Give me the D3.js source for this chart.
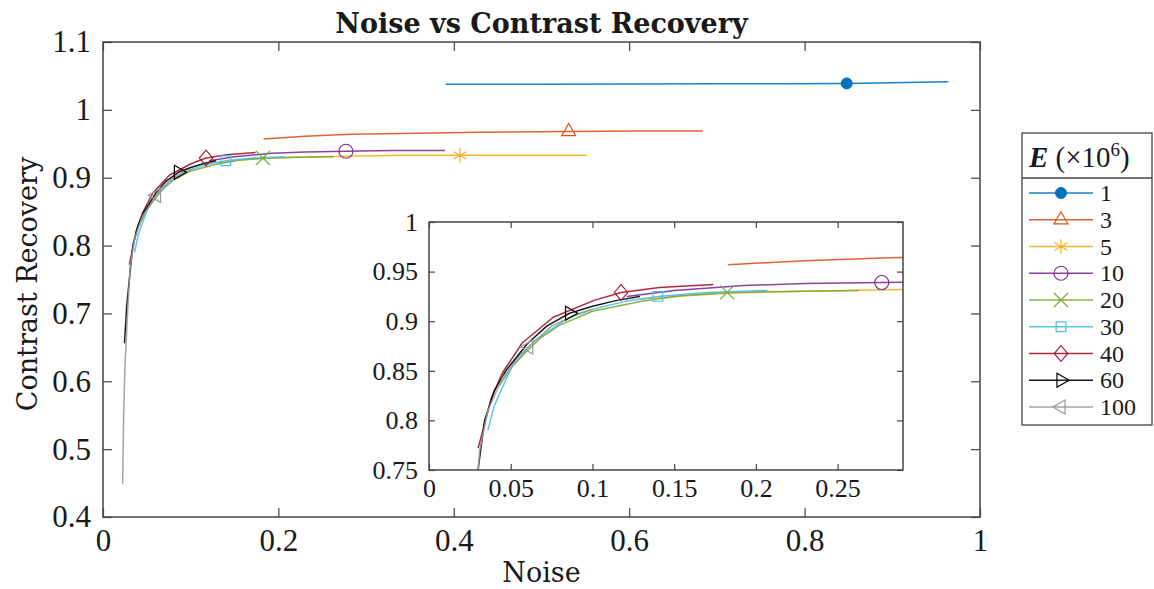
<!DOCTYPE html>
<html>
<head>
<meta charset="utf-8">
<script src="https://cdn.jsdelivr.net/npm/d3@7"></script>
<style>
  html, body { margin: 0; padding: 0; background: #fff; }
</style>
</head>
<body>
<svg id="chart" width="1154" height="589"></svg>
<script>
// ---- data ----
const series = ['1', '3', '5', '10', '20', '30', '40', '60', '100'];
const colors = ['#0072BD', '#D95319', '#EDB120', '#7E2F8E', '#77AC30', '#4DBEEE', '#A2142F', '#000000', '#9a9a9a'];
const markerTypes = ['dot', 'triUp', 'star', 'circle', 'times', 'square', 'diamond', 'triRight', 'triLeft'];

const noise1 = [0.391, 0.50, 0.60, 0.70, 0.775, 0.848, 0.90, 0.964];
const cr1 = [1.0376, 1.0378, 1.0380, 1.0383, 1.0386, 1.0390, 1.0400, 1.0415];
const noise3 = [0.183, 0.23, 0.282, 0.34, 0.43, 0.531, 0.61, 0.684];
const cr3 = [0.957, 0.961, 0.964, 0.965, 0.967, 0.968, 0.969, 0.969];
const noise5 = [0.129, 0.15, 0.18, 0.22, 0.29, 0.35, 0.407, 0.48, 0.552];
const cr5 = [0.922, 0.925, 0.928, 0.930, 0.932, 0.933, 0.933, 0.933, 0.933];
const noise10 = [0.121, 0.15, 0.1926, 0.23, 0.277, 0.33, 0.39];
const cr10 = [0.925, 0.931, 0.936, 0.938, 0.939, 0.940, 0.940];
const noise20 = [0.043, 0.0507, 0.06, 0.069, 0.08, 0.10, 0.13, 0.155, 0.1824, 0.22, 0.263];
const cr20 = [0.835, 0.854, 0.870, 0.884, 0.896, 0.910, 0.920, 0.926, 0.929, 0.930, 0.931];
const noise30 = [0.036, 0.040, 0.0446, 0.0527, 0.065, 0.085, 0.10, 0.12, 0.14, 0.17, 0.207];
const cr30 = [0.790, 0.815, 0.832, 0.861, 0.881, 0.903, 0.912, 0.920, 0.925, 0.929, 0.931];
const noise40 = [0.030, 0.033, 0.038, 0.045, 0.057, 0.076, 0.101, 0.1175, 0.141, 0.174];
const cr40 = [0.772, 0.790, 0.822, 0.848, 0.878, 0.904, 0.921, 0.929, 0.934, 0.937];
const noise60 = [0.0245, 0.027, 0.030, 0.034, 0.040, 0.047, 0.06, 0.072, 0.086, 0.10, 0.115, 0.129];
const cr60 = [0.656, 0.71, 0.75, 0.80, 0.83, 0.85, 0.877, 0.895, 0.908, 0.915, 0.921, 0.925];
const noise100 = [0.0224, 0.0235, 0.025, 0.028, 0.031, 0.036, 0.045, 0.061, 0.075, 0.09, 0.10];
const cr100 = [0.449, 0.55, 0.62, 0.70, 0.77, 0.81, 0.843, 0.874, 0.895, 0.907, 0.912];
// which point of each curve carries the marker
const markerIndex = [5, 5, 6, 4, 8, 8, 7, 8, 7];

const noiseAll = [noise1, noise3, noise5, noise10, noise20, noise30, noise40, noise60, noise100];
const crAll = [cr1, cr3, cr5, cr10, cr20, cr30, cr40, cr60, cr100];

const mainXTicks = [0, 0.2, 0.4, 0.6, 0.8, 1];
const mainYTicks = [0.4, 0.5, 0.6, 0.7, 0.8, 0.9, 1, 1.1];
const insetXTicks = [0, 0.05, 0.1, 0.15, 0.2, 0.25];
const insetYTicks = [0.75, 0.8, 0.85, 0.9, 0.95, 1];

const data = series.map((s, i) => ({
  name: s, color: colors[i], marker: markerTypes[i],
  points: noiseAll[i].map((n, j) => ({ x: n, y: crAll[i][j] })),
  mi: markerIndex[i]
}));

const svg = d3.select('#chart');
const AX = '#444';
const INK = '#1a1a1a';
const NUM_FONT = '"Liberation Serif", "Times New Roman", serif';
const LABEL_FONT = '"DejaVu Serif", serif';

// ---- marker drawing ----
function drawMarker(g, type, color, x, y) {
  const m = g.append('g').attr('transform', `translate(${x},${y})`);
  const sym = (t, size) => d3.symbol(t, size)();
  const stroked = p => p.attr('fill', 'none').attr('stroke', color).attr('stroke-width', 1.2);
  if (type === 'dot') {
    m.append('circle').attr('r', 5.5).attr('fill', color).attr('stroke', color);
  } else if (type === 'circle') {
    stroked(m.append('circle').attr('r', 7));
  } else if (type === 'triUp' || type === 'triRight' || type === 'triLeft') {
    const rot = type === 'triUp' ? 0 : (type === 'triRight' ? 90 : -90);
    stroked(m.append('path').attr('d', sym(d3.symbolTriangle2, 140)).attr('transform', `rotate(${rot})`));
  } else if (type === 'star') {
    stroked(m.append('path').attr('d', sym(d3.symbolAsterisk, 150)));
  } else if (type === 'times') {
    stroked(m.append('path').attr('d', sym(d3.symbolTimes, 130)));
  } else if (type === 'square') {
    stroked(m.append('path').attr('d', sym(d3.symbolSquare2, 120)));
  } else if (type === 'diamond') {
    stroked(m.append('path').attr('d', sym(d3.symbolDiamond2, 160)).attr('transform', 'scale(0.85,1)'));
  }
}

// ---- one panel (main or inset) ----
function panel(opts) {
  const { x0, x1, y0, y1, xDom, yDom, xTicks, yTicks, tickLen, fontSize, id } = opts;
  const x = d3.scaleLinear().domain(xDom).range([x0, x1]);
  const y = d3.scaleLinear().domain(yDom).range([y1, y0]);
  const g = svg.append('g');

  g.append('rect').attr('x', x0).attr('y', y0).attr('width', x1 - x0).attr('height', y1 - y0)
    .attr('fill', '#fff');

  g.append('clipPath').attr('id', id).append('rect')
    .attr('x', x0).attr('y', y0).attr('width', x1 - x0).attr('height', y1 - y0);

  const fmt = d => String(+d.toFixed(2));
  const axes = [
    [d3.axisBottom(x).tickValues(xTicks).tickFormat(fmt), `translate(0,${y1})`],
    [d3.axisTop(x).tickValues(xTicks).tickFormat(''), `translate(0,${y0})`],
    [d3.axisLeft(y).tickValues(yTicks).tickFormat(fmt), `translate(${x0},0)`],
    [d3.axisRight(y).tickValues(yTicks).tickFormat(''), `translate(${x1},0)`]
  ];
  axes.forEach(([ax, tr], k) => {
    const a = g.append('g').attr('transform', tr)
      .call(ax.tickSize(-tickLen).tickSizeOuter(0).tickPadding(k === 0 ? opts.padX : opts.padY));
    a.select('.domain').remove();
    a.selectAll('.tick line').attr('stroke', AX).attr('stroke-width', 1.2);
    a.selectAll('.tick text').style('font-size', fontSize + 'px')
      .style('font-family', NUM_FONT).style('fill', INK);
  });

  const line = d3.line().x(d => x(d.x)).y(d => y(d.y));
  const lines = g.append('g').attr('clip-path', `url(#${id})`);
  data.forEach(s => {
    lines.append('path').datum(s.points).attr('d', line)
      .attr('fill', 'none').attr('stroke', s.color).attr('stroke-width', 1.5)
      .attr('stroke-opacity', 0.9).attr('stroke-linejoin', 'round');
  });
  data.forEach(s => {
    const p = s.points[s.mi];
    if (p.x >= xDom[0] && p.x <= xDom[1] && p.y >= yDom[0] && p.y <= yDom[1]) {
      drawMarker(lines, s.marker, s.color, x(p.x), y(p.y));
    }
  });

  g.append('rect').attr('x', x0).attr('y', y0).attr('width', x1 - x0).attr('height', y1 - y0)
    .attr('fill', 'none').attr('stroke', AX).attr('stroke-width', 1.5);
  return g;
}

// main axes
panel({ id: 'clipMain', x0: 103, x1: 980, y0: 42, y1: 517, xDom: [0, 1], yDom: [0.4, 1.1],
  xTicks: mainXTicks, yTicks: mainYTicks, tickLen: 9, fontSize: 31, padX: 12, padY: 12 });

// inset axes
panel({ id: 'clipInset', x0: 429, x1: 903, y0: 222, y1: 470, xDom: [0, 0.29], yDom: [0.75, 1],
  xTicks: insetXTicks, yTicks: insetYTicks, tickLen: 6, fontSize: 26, padX: 9, padY: 11 });

// titles
const label = (sel, size) => sel.style('font-family', LABEL_FONT).style('font-size', size + 'px').style('fill', INK);
label(svg.append('text').attr('x', 541.5).attr('y', 33).attr('text-anchor', 'middle'), 27)
  .style('font-weight', 'bold').text('Noise vs Contrast Recovery');
label(svg.append('text').attr('x', 541.5).attr('y', 582).attr('text-anchor', 'middle'), 27)
  .text('Noise');
label(svg.append('text').attr('transform', 'translate(37,284) rotate(-90)').attr('text-anchor', 'middle'), 27)
  .text('Contrast Recovery');

// ---- legend ----
const lg = svg.append('g');
const LX0 = 1022, LX1 = 1152, LY0 = 133, LY1 = 425, LH = 178;
lg.append('rect').attr('x', LX0).attr('y', LY0).attr('width', LX1 - LX0).attr('height', LY1 - LY0)
  .attr('fill', '#fff').attr('stroke', AX).attr('stroke-width', 1.3);
lg.append('line').attr('x1', LX0).attr('x2', LX1).attr('y1', LH).attr('y2', LH)
  .attr('stroke', AX).attr('stroke-width', 1.3);
const ht = lg.append('text').attr('x', 1029).attr('y', 167)
  .style('font-size', '29px').style('font-family', NUM_FONT).style('fill', INK);
ht.append('tspan').style('font-weight', 'bold').style('font-style', 'italic').text('E');
ht.append('tspan').text(' (×10');
ht.append('tspan').attr('dy', -11).style('font-size', '19px').text('6');
ht.append('tspan').attr('dy', 11).text(')');

const rowY = d3.scalePoint().domain(series).range([193, 407]);
series.forEach((s, i) => {
  const yy = rowY(s);
  lg.append('line').attr('x1', 1029).attr('x2', 1093).attr('y1', yy).attr('y2', yy)
    .attr('stroke', colors[i]).attr('stroke-width', 1.5).attr('stroke-opacity', 0.9);
  drawMarker(lg, markerTypes[i], colors[i], 1061, yy);
  lg.append('text').attr('x', 1100).attr('y', yy + 8)
    .style('font-size', '24px').style('font-family', NUM_FONT).style('fill', INK).text(s);
});
</script>
</body>
</html>
